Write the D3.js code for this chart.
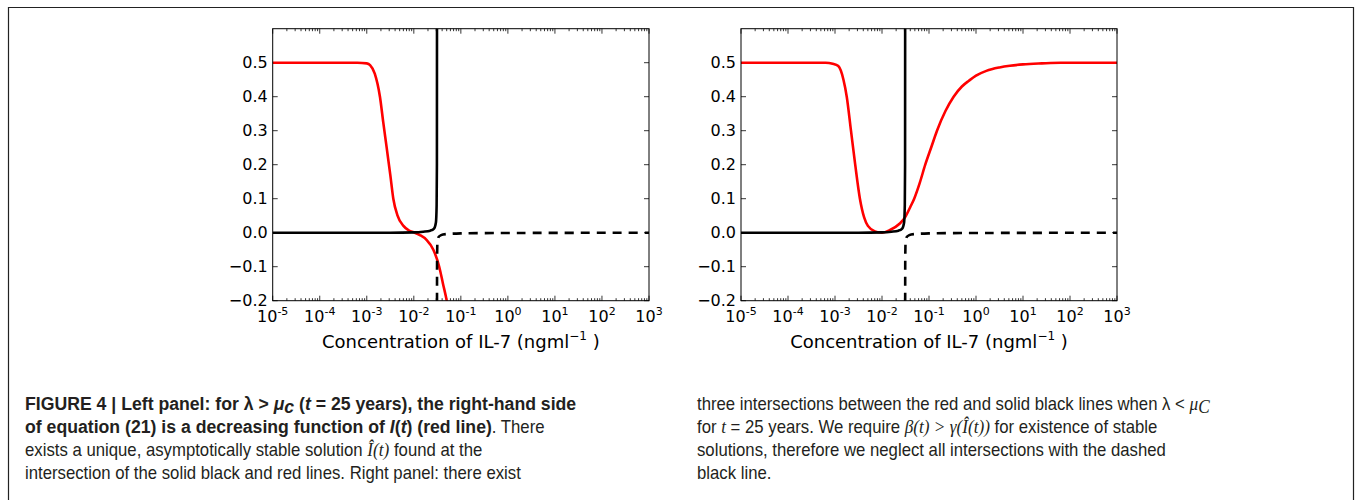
<!DOCTYPE html>
<html>
<head>
<meta charset="utf-8">
<script src="https://cdn.jsdelivr.net/npm/d3@7"></script>
<style>
  body { margin: 0; background: #fff; }
  .tick-label { font-family: "DejaVu Sans", sans-serif; font-size: 16px; fill: #000; }
  .axis-title { font-family: "DejaVu Sans", sans-serif; font-size: 18px; fill: #000; }
  .caption { font-family: "Liberation Sans", Arial, sans-serif; font-size: 18px; fill: #231f20; }
  .caption .bold { font-weight: bold; font-size: 19px; }
  .caption .math { font-family: "Liberation Serif", "DejaVu Serif", serif; font-style: italic; font-size: 18.5px; }
</style>
</head>
<body>
<svg id="fig" width="1356" height="500"></svg>
<script>
// x values are given as log10 of the IL-7 concentration (ng/ml)
var xTickExps = [-5, -4, -3, -2, -1, 0, 1, 2, 3];
var yTicks = [-0.2, -0.1, 0.0, 0.1, 0.2, 0.3, 0.4, 0.5];
var xDomainExp = [-5, 3];
var yDomain = [-0.2, 0.6];

// left panel (lambda > mu_c)
var leftRed = [[-5, 0.5], [-3.2, 0.5], [-3.0, 0.498], [-2.93, 0.493], [-2.83, 0.468],
    [-2.72, 0.4], [-2.65, 0.325], [-2.577, 0.25], [-2.5, 0.17], [-2.436, 0.1], [-2.35, 0.052],
    [-2.22, 0.02], [-2.1, 0.006], [-2.0, 0.001], [-1.87, -0.007], [-1.73, -0.021],
    [-1.585, -0.05], [-1.46, -0.1], [-1.38, -0.15], [-1.30, -0.2], [-1.25, -0.24]];
var leftBlack = [[-5, 0], [-2.5, 0], [-2.0, 0.001], [-1.8, 0.003], [-1.65, 0.006],
    [-1.57, 0.012], [-1.53, 0.03], [-1.515, 0.08], [-1.509, 0.2], [-1.507, 0.7]];
var leftDashed = [[-1.507, -0.25], [-1.506, -0.1], [-1.5, -0.03], [-1.48, -0.014],
    [-1.42, -0.007], [-1.3, -0.004], [-1.0, -0.002], [-0.3, -0.001], [3, 0]];

// right panel (lambda < mu_c)
var rightRed = [[-5, 0.5], [-3.2, 0.5], [-3.05, 0.497], [-2.93, 0.49], [-2.82, 0.45],
    [-2.75, 0.4], [-2.66, 0.3], [-2.57, 0.2], [-2.47, 0.1], [-2.38, 0.045], [-2.3, 0.02],
    [-2.15, 0.004], [-2.0, 0.0], [-1.83, 0.008], [-1.62, 0.027], [-1.51, 0.045],
    [-1.4, 0.075], [-1.315, 0.1], [-1.2, 0.145], [-1.08, 0.2], [-0.95, 0.252], [-0.83, 0.3],
    [-0.65, 0.358], [-0.476, 0.4], [-0.3, 0.43], [-0.15, 0.447], [0, 0.462], [0.22, 0.476],
    [0.5, 0.486], [0.72, 0.491], [1.0, 0.495], [1.4, 0.498], [1.8, 0.5], [3, 0.5]];
var rightBlack = [[-5, 0], [-2.5, 0], [-2.0, 0.001], [-1.8, 0.003], [-1.65, 0.006],
    [-1.57, 0.012], [-1.53, 0.03], [-1.515, 0.08], [-1.509, 0.2], [-1.507, 0.7]];
var rightDashed = [[-1.507, -0.25], [-1.506, -0.1], [-1.5, -0.03], [-1.48, -0.014],
    [-1.42, -0.007], [-1.3, -0.004], [-1.0, -0.002], [-0.3, -0.001], [3, 0]];

// caption pieces: b = bold, i = italic, m = math (serif italic), sub = subscript
var captionLeft = [
    [{t: "FIGURE 4 | Left panel: for λ > ", b: 1}, {t: "μ", b: 1, i: 1}, {t: "c", b: 1, i: 1, sub: 1}, {t: " (", b: 1}, {t: "t", b: 1, i: 1}, {t: " = 25 years), the right-hand side", b: 1}],
    [{t: "of equation (21) is a decreasing function of ", b: 1}, {t: "I", b: 1, i: 1}, {t: "(", b: 1}, {t: "t", b: 1, i: 1}, {t: ") (red line)", b: 1}, {t: ". There"}],
    [{t: "exists a unique, asymptotically stable solution "}, {t: "Î(t)", m: 1}, {t: " found at the"}],
    [{t: "intersection of the solid black and red lines. Right panel: there exist"}]
];
var captionRight = [
    [{t: "three intersections between the red and solid black lines when λ < "}, {t: "μ", m: 1}, {t: "C", m: 1, sub: 1}],
    [{t: "for "}, {t: "t", m: 1}, {t: " = 25 years. We require "}, {t: "β(t) > γ(Î(t))", m: 1}, {t: " for existence of stable"}],
    [{t: "solutions, therefore we neglect all intersections with the dashed"}],
    [{t: "black line."}]
];

var svg = d3.select("#fig");

// figure frame (top and sides)
svg.append("path")
    .attr("d", "M8.5,500 V7.5 H1353.5 V500")
    .attr("fill", "none")
    .attr("stroke", "#222")
    .attr("stroke-width", 1.2);

function drawPanel(id, left, right, series) {
    var top = 28.7, bottom = 300.7;
    var x = d3.scaleLog().domain(xDomainExp.map(function(e) { return Math.pow(10, e); })).range([left, right]);
    var y = d3.scaleLinear().domain(yDomain).range([bottom, top]);
    var g = svg.append("g");

    g.append("clipPath").attr("id", "clip" + id)
        .append("rect").attr("x", left).attr("y", top).attr("width", right - left).attr("height", bottom - top);

    // minor & major ticks (inward, on all four sides)
    var minor = [];
    for (var e = xDomainExp[0]; e < xDomainExp[1]; e++) {
        for (var m = 2; m <= 9; m++) minor.push(m * Math.pow(10, e));
    }
    var majors = xTickExps.map(function(e) { return Math.pow(10, e); });
    var tg = g.append("g").attr("stroke", "#000").attr("stroke-width", 0.8);
    minor.forEach(function(v) {
        tg.append("line").attr("x1", x(v)).attr("x2", x(v)).attr("y1", bottom).attr("y2", bottom - 2.5);
        tg.append("line").attr("x1", x(v)).attr("x2", x(v)).attr("y1", top).attr("y2", top + 2.5);
    });
    majors.forEach(function(v) {
        tg.append("line").attr("x1", x(v)).attr("x2", x(v)).attr("y1", bottom).attr("y2", bottom - 5);
        tg.append("line").attr("x1", x(v)).attr("x2", x(v)).attr("y1", top).attr("y2", top + 5);
    });
    yTicks.forEach(function(v) {
        tg.append("line").attr("x1", left).attr("x2", left + 5).attr("y1", y(v)).attr("y2", y(v));
        tg.append("line").attr("x1", right).attr("x2", right - 5).attr("y1", y(v)).attr("y2", y(v));
    });

    // tick labels
    xTickExps.forEach(function(e) {
        var t = g.append("text").attr("class", "tick-label")
            .attr("x", x(Math.pow(10, e))).attr("y", 322).attr("text-anchor", "middle");
        t.append("tspan").text("10");
        t.append("tspan").attr("dy", -7).attr("font-size", "11px").text(e < 0 ? "-" + (-e) : String(e));
    });
    yTicks.forEach(function(v) {
        g.append("text").attr("class", "tick-label")
            .attr("x", left - 5).attr("y", y(v)).attr("dy", "0.36em")
            .attr("text-anchor", "end")
            .text(d3.format(".1f")(v).replace("-", "−"));
    });

    // x axis title
    var at = g.append("text").attr("class", "axis-title")
        .attr("x", (left + right) / 2).attr("y", 348).attr("text-anchor", "middle");
    at.append("tspan").text("Concentration of IL-7 (ngml");
    at.append("tspan").attr("dy", -8).attr("font-size", "12px").text("−1");
    at.append("tspan").attr("dy", 8).text(" )");

    var line = d3.line()
        .x(function(d) { return x(Math.pow(10, d[0])); })
        .y(function(d) { return y(d[1]); })
        .curve(d3.curveMonotoneX);
    var lineV = d3.line()
        .x(function(d) { return x(Math.pow(10, d[0])); })
        .y(function(d) { return y(d[1]); })
        .curve(d3.curveMonotoneY);

    var plot = g.append("g").attr("clip-path", "url(#clip" + id + ")");
    plot.append("path").attr("d", line(series.red))
        .attr("fill", "none").attr("stroke", "#ff0000").attr("stroke-width", 2.6);
    plot.append("path").attr("d", line(series.black))
        .attr("fill", "none").attr("stroke", "#000").attr("stroke-width", 2.6);
    plot.append("path").attr("d", lineV(series.dashed))
        .attr("fill", "none").attr("stroke", "#000").attr("stroke-width", 2.6)
        .attr("stroke-dasharray", "9,7");

    // axes frame
    g.append("rect").attr("x", left).attr("y", top)
        .attr("width", right - left).attr("height", bottom - top)
        .attr("fill", "none").attr("stroke", "#000").attr("stroke-width", 1);
}

drawPanel("L", 272.7, 649, {red: leftRed, black: leftBlack, dashed: leftDashed});
drawPanel("R", 741, 1117, {red: rightRed, black: rightBlack, dashed: rightDashed});

// caption text is a narrow face in the original: squeeze each line a little
function drawCaption(lines, x0) {
    var baselines = [410, 433, 456, 479];
    lines.forEach(function(parts, i) {
        var t = svg.append("text").attr("class", "caption")
            .attr("transform", "translate(" + x0 + "," + baselines[i] + ") scale(0.93,1)");
        var lastSub = false;
        parts.forEach(function(p) {
            var s = t.append("tspan").text(p.t);
            if (p.b) s.classed("bold", true);
            if (p.m) s.classed("math", true);
            if (p.i) s.attr("font-style", "italic");
            if (p.sub) s.attr("font-size", "12.5px").attr("dy", 3);
            else if (lastSub) s.attr("dy", -3);
            lastSub = !!p.sub;
        });
    });
}
drawCaption(captionLeft, 25);
drawCaption(captionRight, 697);
</script>
</body>
</html>
